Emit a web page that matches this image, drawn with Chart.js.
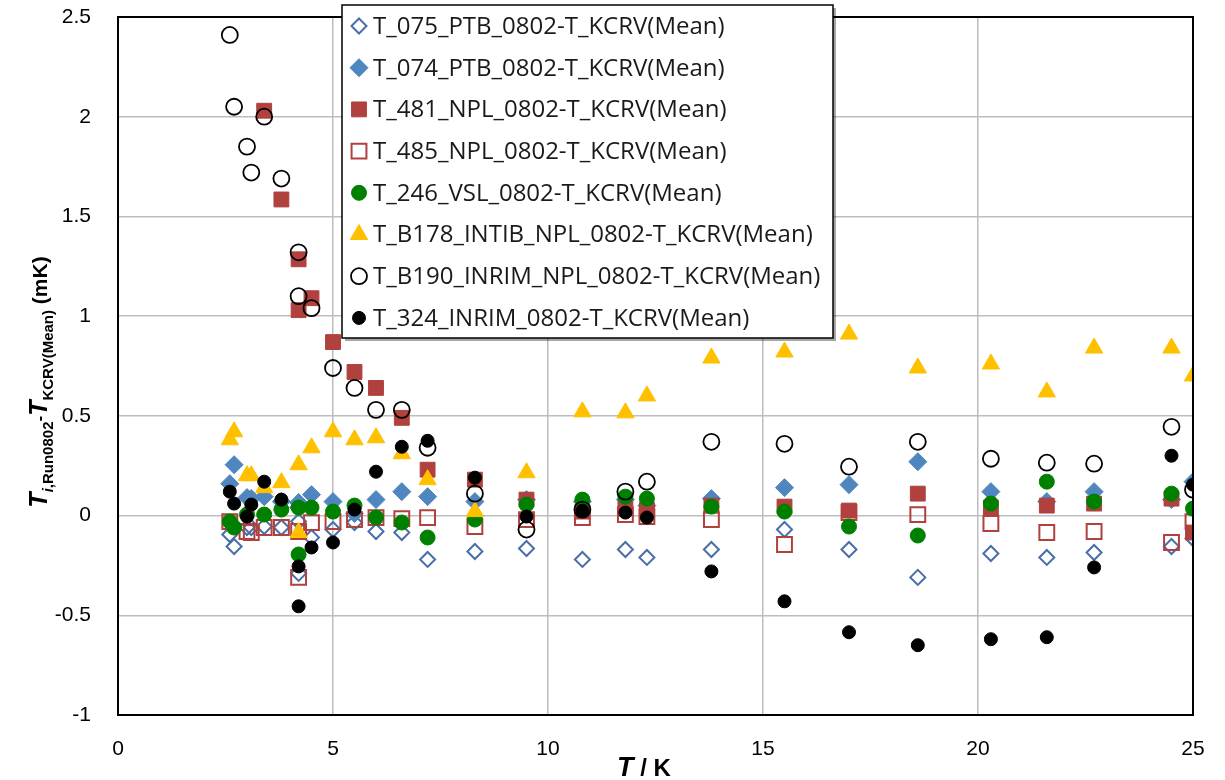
<!DOCTYPE html>
<html>
<head>
<meta charset="utf-8">
<script src="https://cdn.jsdelivr.net/npm/chart.js@4"></script>
<style>
  html, body { margin: 0; padding: 0; background: #fff; }
</style>
</head>
<body>
<canvas id="myChart" width="1225" height="780"></canvas>
<script>
// temperatures (K) where the comparison points sit
let temps = [2.6, 2.7, 3.0, 3.1, 3.4, 3.8, 4.2, 4.2, 4.5, 5.0, 5.5, 6.0, 6.6, 7.2, 8.3, 9.5,
             10.8, 11.8, 12.3, 13.8, 15.5, 17.0, 18.6, 20.3, 21.6, 22.7, 24.5, 25.0];

let labels = [
    'T_075_PTB_0802-T_KCRV(Mean)',
    'T_074_PTB_0802-T_KCRV(Mean)',
    'T_481_NPL_0802-T_KCRV(Mean)',
    'T_485_NPL_0802-T_KCRV(Mean)',
    'T_246_VSL_0802-T_KCRV(Mean)',
    'T_B178_INTIB_NPL_0802-T_KCRV(Mean)',
    'T_B190_INRIM_NPL_0802-T_KCRV(Mean)',
    'T_324_INRIM_0802-T_KCRV(Mean)'
];

// differences in mK, one value per temperature (null = no point)
let t075 = [-0.095, -0.155, -0.06, -0.06, -0.055, -0.06, -0.03, -0.29, -0.11, -0.07, -0.035, -0.08, -0.085, -0.22,
            -0.18, -0.165, -0.22, -0.17, -0.21, -0.17, -0.07, -0.17, -0.31, -0.19, -0.21, -0.185, -0.155, -0.115];
let t074 = [0.16, 0.255, 0.09, 0.085, 0.095, 0.07, 0.065, 0.04, 0.105, 0.07, 0.01, 0.08, 0.12, 0.095,
            0.07, 0.08, 0.07, 0.08, 0.05, 0.085, 0.14, 0.155, 0.27, 0.12, 0.07, 0.12, 0.08, 0.17];
let t481 = [null, null, null, null, 2.03, 1.585, 1.285, 1.03, 1.09, 0.87, 0.72, 0.64, 0.49, 0.23,
            0.18, 0.08, 0.02, 0.035, 0.03, 0.05, 0.045, 0.025, 0.11, 0.04, 0.05, 0.06, 0.085, -0.085];
let t485 = [-0.03, null, -0.08, -0.085, -0.06, -0.06, -0.08, -0.31, -0.035, -0.03, -0.02, -0.01, -0.015, -0.01,
            -0.055, -0.02, -0.01, 0.005, -0.005, -0.02, -0.145, 0.015, 0.005, -0.04, -0.085, -0.08, -0.135, -0.03];
let t246 = [-0.03, -0.06, 0.005, null, 0.005, 0.03, 0.04, -0.195, 0.04, 0.02, 0.05, -0.01, -0.035, -0.11,
            -0.02, 0.055, 0.08, 0.095, 0.085, 0.045, 0.02, -0.055, -0.1, 0.06, 0.17, 0.07, 0.11, 0.035];
let tB178 = [0.38, 0.42, 0.2, 0.2, 0.14, 0.165, 0.255, -0.085, 0.34, 0.42, 0.38, 0.39, 0.31, 0.18,
             0.02, 0.215, 0.52, 0.515, 0.6, 0.79, 0.82, 0.91, 0.74, 0.76, 0.62, 0.84, 0.84, 0.70];
let tB190 = [2.41, 2.05, 1.85, 1.72, 2.0, 1.69, 1.32, 1.10, 1.04, 0.74, 0.64, 0.53, 0.53, 0.34,
             0.11, -0.07, 0.03, 0.12, 0.17, 0.37, 0.36, 0.245, 0.37, 0.285, 0.265, 0.26, 0.445, 0.13];
let t324 = [0.12, 0.06, -0.005, 0.055, 0.17, 0.08, -0.255, -0.455, -0.16, -0.135, 0.03, 0.22, 0.345, 0.375,
            0.19, -0.005, 0.025, 0.015, -0.01, -0.28, -0.43, -0.585, -0.65, -0.62, -0.61, -0.26, 0.30, 0.155];

let allSeries = [t075, t074, t481, t485, t246, tB178, tB190, t324];

let styles = [
    { pointStyle: 'rectRot', radius: 7.5, fill: 'rgba(0,0,0,0)', border: '#4a6ea9', bw: 2 },
    { pointStyle: 'rectRot', radius: 9, fill: '#4f86bf', border: '#4f86bf', bw: 1 },
    { pointStyle: 'rect', radius: 10.5, fill: '#b0413e', border: '#b0413e', bw: 1 },
    { pointStyle: 'rect', radius: 10.5, fill: 'rgba(0,0,0,0)', border: '#b0413e', bw: 2 },
    { pointStyle: 'circle', radius: 7.5, fill: '#008000', border: '#008000', bw: 1 },
    { pointStyle: 'triangle', radius: 10, fill: '#ffc000', border: '#ffc000', bw: 1 },
    { pointStyle: 'circle', radius: 8, fill: 'rgba(0,0,0,0)', border: '#000000', bw: 1.8 },
    { pointStyle: 'circle', radius: 6.5, fill: '#000000', border: '#000000', bw: 1 }
];

let datasets = allSeries.map(function (vals, i) {
    let pts = [];
    temps.forEach(function (t, j) {
        if (vals[j] !== null) pts.push({ x: t, y: vals[j] });
    });
    return {
        label: labels[i],
        data: pts,
        showLine: false,
        order: 8 - i,
        pointStyle: styles[i].pointStyle,
        pointRadius: styles[i].radius,
        pointHoverRadius: styles[i].radius,
        pointBackgroundColor: styles[i].fill,
        pointBorderColor: styles[i].border,
        pointBorderWidth: styles[i].bw
    };
});

// black frame around the plot area
let frame = {
    id: 'frame',
    afterDatasetsDraw: function (chart) {
        let a = chart.chartArea, ctx = chart.ctx;
        ctx.save();
        ctx.strokeStyle = '#000';
        ctx.lineWidth = 2;
        ctx.strokeRect(a.left, a.top, a.right - a.left, a.bottom - a.top);
        ctx.restore();
    }
};

// legend box drawn inside the plot, like the original
let boxLegend = {
    id: 'boxLegend',
    afterDraw: function (chart) {
        let ctx = chart.ctx;
        let x0 = 342, y0 = 5, w = 491, h = 333;
        ctx.save();
        ctx.fillStyle = 'rgba(0,0,0,0.35)';
        ctx.fillRect(x0 + 3, y0 + 3, w, h);
        ctx.fillStyle = '#fff';
        ctx.fillRect(x0, y0, w, h);
        ctx.strokeStyle = '#000';
        ctx.lineWidth = 1.5;
        ctx.strokeRect(x0, y0, w, h);

        let fam = '"Open Sans", "Noto Sans", sans-serif';
        ctx.font = '20px ' + fam;
        let size = 20 * 352 / ctx.measureText(labels[0]).width;
        ctx.font = size.toFixed(1) + 'px ' + fam;
        ctx.textBaseline = 'middle';
        ctx.textAlign = 'left';
        labels.forEach(function (lab, i) {
            let y = 26 + i * 41.7;
            let s = styles[i];
            ctx.fillStyle = s.fill;
            ctx.strokeStyle = s.border;
            ctx.lineWidth = s.bw;
            Chart.helpers.drawPoint(ctx, { pointStyle: s.pointStyle, radius: s.radius, rotation: 0, borderWidth: s.bw }, 359, y);
            ctx.fillStyle = '#1a1a1a';
            ctx.fillText(lab, 373, y + 1);
        });
        ctx.restore();
    }
};

// axis titles with italic symbols and subscripts
let axisTitles = {
    id: 'axisTitles',
    afterDraw: function (chart) {
        let ctx = chart.ctx;
        let fam = '"Liberation Sans", Arial, sans-serif';
        let segs = [
            { t: 'T', f: 'italic bold 25px', dy: 0 },
            { t: 'i', f: 'italic bold 15px', dy: 6 },
            { t: ',Run0802', f: 'bold 15px', dy: 6 },
            { t: '-', f: 'bold 17px', dy: -2 },
            { t: 'T', f: 'italic bold 25px', dy: 0 },
            { t: 'KCRV(Mean)', f: 'bold 15px', dy: 6 },
            { t: ' (mK)', f: 'bold 21px', dy: 0 }
        ];
        ctx.save();
        let total = 0;
        segs.forEach(function (s) {
            ctx.font = s.f + ' ' + fam;
            s.w = ctx.measureText(s.t).width;
            total += s.w;
        });
        ctx.translate(47, 382);
        ctx.rotate(-Math.PI / 2);
        ctx.fillStyle = '#000';
        ctx.textBaseline = 'alphabetic';
        ctx.textAlign = 'left';
        let x = -total / 2;
        segs.forEach(function (s) {
            ctx.font = s.f + ' ' + fam;
            ctx.fillText(s.t, x, s.dy);
            x += s.w;
        });
        ctx.restore();

        ctx.save();
        ctx.fillStyle = '#000';
        ctx.textBaseline = 'alphabetic';
        ctx.textAlign = 'left';
        ctx.font = 'italic bold 27px ' + fam;
        let w1 = ctx.measureText('T').width;
        ctx.font = 'bold 24px ' + fam;
        let w2 = ctx.measureText(' / K').width;
        let xs = 644 - (w1 + w2) / 2;
        ctx.font = 'italic bold 27px ' + fam;
        ctx.fillText('T', xs, 776);
        ctx.font = 'bold 24px ' + fam;
        ctx.fillText(' / K', xs + w1, 776);
        ctx.restore();
    }
};

let tickFont = { family: '"Liberation Sans Narrow", "Liberation Sans", sans-serif', size: 21 };

let myChart = new Chart('myChart', {
    type: 'scatter',
    data: { datasets: datasets },
    options: {
        responsive: false,
        animation: false,
        devicePixelRatio: 1,
        layout: { padding: { top: 17, right: 32, bottom: 0, left: 0 } },
        plugins: {
            legend: { display: false },
            tooltip: { enabled: false }
        },
        scales: {
            x: {
                type: 'linear',
                min: 0,
                max: 25,
                afterFit: function (scale) {
                    scale.height = 65;
                    scale.paddingLeft = 0;
                    scale.paddingRight = 0;
                },
                ticks: {
                    stepSize: 5,
                    padding: 22,
                    color: '#000',
                    font: tickFont
                },
                grid: { color: '#bdbdbd', lineWidth: 1.5, drawTicks: false },
                border: { color: '#000', width: 2 }
            },
            y: {
                type: 'linear',
                min: -1,
                max: 2.5,
                afterFit: function (scale) {
                    scale.width = 118;
                    scale.paddingTop = 0;
                    scale.paddingBottom = 0;
                },
                ticks: {
                    stepSize: 0.5,
                    padding: 27,
                    color: '#000',
                    font: tickFont,
                    callback: function (v) { return String(v); }
                },
                grid: { color: '#bdbdbd', lineWidth: 1.5, drawTicks: false },
                border: { color: '#000', width: 2 }
            }
        }
    },
    plugins: [frame, boxLegend, axisTitles]
});
</script>
</body>
</html>
